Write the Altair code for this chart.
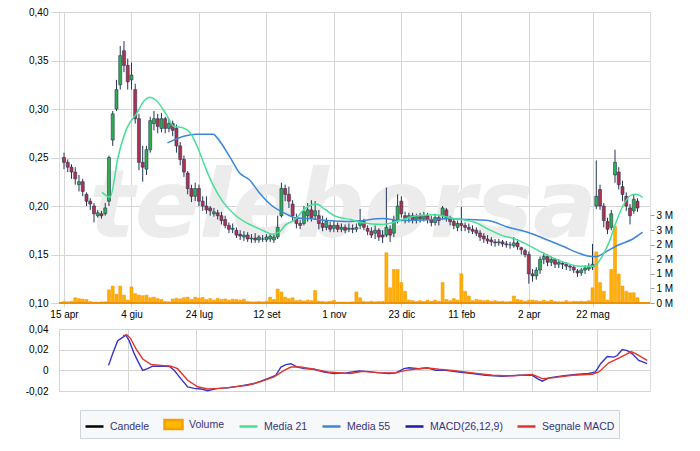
import altair as alt
import pandas as pd

# ---------------- axis ticks ----------------
TICK_DAYS = [0, 36, 72, 108, 144, 180, 212, 248, 282]          # trading-day index of gridlines
TICK_LABELS = ["15 apr", "4 giu", "24 lug", "12 set", "1 nov", "23 dic", "11 feb", "2 apr", "22 mag"]
PRICE_TICKS = [0.10, 0.15, 0.20, 0.25, 0.30, 0.35, 0.40]
VOL_TICKS = [0, 0.5, 1.0, 1.5, 2.0, 2.5, 3.0]
MACD_TICKS = [-0.02, 0, 0.02, 0.04]

# ---------------- candles (one every second session) ----------------
OPEN = [0.250, 0.245, 0.240, 0.235, 0.222, 0.225, 0.212, 0.205, 0.200, 0.190,
        0.192, 0.192, 0.205, 0.268, 0.300, 0.325, 0.360, 0.345, 0.330, 0.320,
        0.290, 0.245, 0.238, 0.258, 0.285, 0.290, 0.280, 0.290, 0.280, 0.285,
        0.280, 0.262, 0.248, 0.234, 0.218, 0.210, 0.218, 0.205, 0.200, 0.198,
        0.192, 0.193, 0.190, 0.186, 0.180, 0.176, 0.175, 0.171, 0.168, 0.170,
        0.166, 0.167, 0.165, 0.166, 0.165, 0.166, 0.165, 0.168, 0.190, 0.218,
        0.212, 0.202, 0.188, 0.182, 0.182, 0.190, 0.196, 0.190, 0.190, 0.182,
        0.178, 0.180, 0.177, 0.180, 0.176, 0.178, 0.176, 0.177, 0.176, 0.180,
        0.184, 0.177, 0.174, 0.172, 0.175, 0.170, 0.170, 0.176, 0.172, 0.185,
        0.205, 0.190, 0.188, 0.190, 0.186, 0.189, 0.187, 0.190, 0.186, 0.183,
        0.188, 0.190, 0.196, 0.188, 0.184, 0.178, 0.182, 0.180, 0.178, 0.176,
        0.175, 0.172, 0.169, 0.166, 0.165, 0.163, 0.162, 0.163, 0.161, 0.160,
        0.159, 0.162, 0.157, 0.154, 0.150, 0.130, 0.128, 0.134, 0.145, 0.148,
        0.142, 0.145, 0.140, 0.141, 0.140, 0.138, 0.137, 0.133, 0.131, 0.134,
        0.135, 0.137, 0.200, 0.217, 0.200, 0.184, 0.178, 0.232, 0.235, 0.220,
        0.210, 0.198, 0.195, 0.205]
HIGH = [0.255, 0.248, 0.243, 0.240, 0.232, 0.228, 0.214, 0.208, 0.203, 0.196,
        0.195, 0.203, 0.252, 0.298, 0.330, 0.365, 0.370, 0.352, 0.348, 0.326,
        0.295, 0.262, 0.262, 0.292, 0.298, 0.295, 0.296, 0.292, 0.290, 0.288,
        0.284, 0.266, 0.252, 0.236, 0.222, 0.224, 0.222, 0.210, 0.210, 0.200,
        0.198, 0.196, 0.194, 0.190, 0.183, 0.182, 0.178, 0.175, 0.174, 0.173,
        0.171, 0.172, 0.170, 0.170, 0.171, 0.171, 0.171, 0.190, 0.224, 0.222,
        0.220, 0.206, 0.192, 0.186, 0.200, 0.203, 0.206, 0.205, 0.196, 0.190,
        0.188, 0.184, 0.185, 0.183, 0.182, 0.181, 0.182, 0.181, 0.182, 0.197,
        0.187, 0.180, 0.178, 0.180, 0.177, 0.175, 0.219, 0.180, 0.190, 0.212,
        0.210, 0.194, 0.193, 0.193, 0.192, 0.193, 0.194, 0.193, 0.190, 0.192,
        0.190, 0.200, 0.198, 0.190, 0.187, 0.185, 0.199, 0.183, 0.182, 0.180,
        0.178, 0.175, 0.172, 0.170, 0.168, 0.166, 0.166, 0.165, 0.164, 0.163,
        0.168, 0.166, 0.158, 0.156, 0.153, 0.135, 0.137, 0.148, 0.152, 0.150,
        0.148, 0.146, 0.145, 0.143, 0.142, 0.140, 0.139, 0.135, 0.136, 0.139,
        0.141, 0.161, 0.247, 0.222, 0.203, 0.188, 0.196, 0.258, 0.240, 0.226,
        0.214, 0.202, 0.212, 0.208]
LOW = [0.238, 0.235, 0.228, 0.222, 0.215, 0.210, 0.200, 0.196, 0.183, 0.188,
       0.187, 0.190, 0.200, 0.262, 0.298, 0.320, 0.338, 0.320, 0.320, 0.285,
       0.237, 0.225, 0.232, 0.255, 0.278, 0.275, 0.276, 0.275, 0.276, 0.272,
       0.255, 0.242, 0.230, 0.212, 0.204, 0.205, 0.200, 0.195, 0.192, 0.190,
       0.189, 0.186, 0.181, 0.177, 0.172, 0.172, 0.167, 0.165, 0.164, 0.163,
       0.162, 0.162, 0.162, 0.163, 0.163, 0.163, 0.162, 0.166, 0.188, 0.205,
       0.198, 0.184, 0.177, 0.176, 0.180, 0.184, 0.184, 0.186, 0.176, 0.174,
       0.175, 0.173, 0.173, 0.173, 0.173, 0.172, 0.173, 0.172, 0.173, 0.176,
       0.175, 0.170, 0.167, 0.166, 0.164, 0.162, 0.168, 0.163, 0.168, 0.182,
       0.188, 0.182, 0.183, 0.182, 0.182, 0.183, 0.184, 0.182, 0.179, 0.180,
       0.180, 0.186, 0.184, 0.180, 0.176, 0.174, 0.174, 0.174, 0.172, 0.171,
       0.169, 0.164, 0.162, 0.161, 0.159, 0.158, 0.159, 0.158, 0.157, 0.156,
       0.157, 0.155, 0.150, 0.147, 0.120, 0.122, 0.124, 0.130, 0.140, 0.138,
       0.138, 0.136, 0.136, 0.135, 0.134, 0.133, 0.131, 0.127, 0.128, 0.130,
       0.133, 0.134, 0.197, 0.196, 0.178, 0.171, 0.175, 0.224, 0.217, 0.205,
       0.195, 0.181, 0.192, 0.194]
CLOSE = [0.245, 0.240, 0.235, 0.228, 0.225, 0.215, 0.205, 0.202, 0.192, 0.193,
         0.190, 0.198, 0.250, 0.295, 0.320, 0.355, 0.345, 0.328, 0.335, 0.290,
         0.245, 0.240, 0.258, 0.288, 0.290, 0.282, 0.290, 0.280, 0.285, 0.278,
         0.262, 0.248, 0.235, 0.218, 0.210, 0.218, 0.205, 0.200, 0.196, 0.195,
         0.194, 0.190, 0.185, 0.180, 0.176, 0.177, 0.170, 0.169, 0.170, 0.166,
         0.167, 0.165, 0.168, 0.166, 0.168, 0.169, 0.168, 0.178, 0.218, 0.212,
         0.205, 0.190, 0.182, 0.180, 0.194, 0.196, 0.188, 0.195, 0.182, 0.178,
         0.184, 0.176, 0.180, 0.176, 0.178, 0.175, 0.177, 0.176, 0.178, 0.185,
         0.178, 0.174, 0.170, 0.175, 0.168, 0.168, 0.178, 0.170, 0.185, 0.200,
         0.192, 0.187, 0.190, 0.186, 0.189, 0.187, 0.190, 0.186, 0.183, 0.188,
         0.185, 0.198, 0.188, 0.184, 0.180, 0.182, 0.180, 0.178, 0.176, 0.174,
         0.172, 0.168, 0.166, 0.164, 0.163, 0.162, 0.163, 0.161, 0.160, 0.160,
         0.162, 0.158, 0.155, 0.150, 0.130, 0.128, 0.134, 0.145, 0.148, 0.142,
         0.145, 0.140, 0.142, 0.140, 0.138, 0.137, 0.134, 0.131, 0.134, 0.136,
         0.138, 0.140, 0.210, 0.200, 0.185, 0.176, 0.192, 0.245, 0.222, 0.212,
         0.200, 0.190, 0.207, 0.198]
# volume, millions of shares
VOLUME = [0.05, 0.04, 0.06, 0.18, 0.15, 0.13, 0.12, 0.05, 0.03, 0.03,
          0.04, 0.04, 0.45, 0.58, 0.30, 0.58, 0.27, 0.10, 0.55, 0.32,
          0.27, 0.25, 0.27, 0.18, 0.20, 0.15, 0.12, 0.05, 0.04, 0.14,
          0.16, 0.14, 0.18, 0.20, 0.12, 0.20, 0.17, 0.19, 0.12, 0.15,
          0.10, 0.16, 0.12, 0.14, 0.10, 0.13, 0.12, 0.10, 0.13, 0.05,
          0.04, 0.04, 0.05, 0.04, 0.06, 0.20, 0.12, 0.48, 0.38, 0.20,
          0.15, 0.18, 0.08, 0.10, 0.07, 0.10, 0.08, 0.43, 0.06, 0.05,
          0.04, 0.06, 0.09, 0.03, 0.03, 0.03, 0.03, 0.04, 0.38, 0.18,
          0.05, 0.04, 0.06, 0.04, 0.05, 0.06, 1.72, 0.52, 1.15, 1.15,
          0.70, 0.40, 0.10, 0.08, 0.05, 0.08, 0.05, 0.10, 0.06, 0.10,
          0.06, 0.70, 0.12, 0.08, 0.15, 0.10, 1.00, 0.40, 0.24, 0.08,
          0.12, 0.10, 0.08, 0.10, 0.06, 0.08, 0.05, 0.06, 0.04, 0.05,
          0.24, 0.12, 0.10, 0.06, 0.10, 0.10, 0.08, 0.06, 0.10, 0.06,
          0.10, 0.05, 0.04, 0.04, 0.08, 0.04, 0.06, 0.05, 0.06, 0.05,
          0.08, 0.52, 1.75, 0.70, 0.40, 0.10, 1.15, 2.63, 0.99, 0.58,
          0.40, 0.35, 0.35, 0.18]
DAY = [2 * k for k in range(len(CLOSE))]

# ---------------- moving averages (read at points) ----------------
MA21_DAY = [20.3, 24.6, 28.8, 33.5, 38.6, 43, 45.6, 49.1, 54.4, 58.7, 62.9, 67.5, 71.8, 76, 79.7,
            84.9, 91.7, 99.1, 105.9, 111.1, 114.8, 117.9, 123.2, 128.4, 134.7, 138.9, 144.2, 153,
            158.3, 170.3, 175.6, 180.8, 188.2, 198.6, 205.5, 212.3, 219.6, 226.4, 233.2, 240.6,
            247.4, 254.2, 261.5, 268.3, 275.2, 282.5, 287.7, 290.9, 294.5, 298.2, 302.4, 305, 308.7]
MA21_VAL = [0.214, 0.209, 0.250, 0.280, 0.295, 0.309, 0.312, 0.309, 0.295, 0.282, 0.281, 0.275,
            0.258, 0.237, 0.221, 0.204, 0.190, 0.181, 0.175, 0.171, 0.173, 0.180, 0.186, 0.197,
            0.202, 0.197, 0.190, 0.186, 0.183, 0.181, 0.183, 0.186, 0.190, 0.191, 0.188, 0.186,
            0.183, 0.176, 0.170, 0.166, 0.160, 0.153, 0.146, 0.141, 0.138, 0.138, 0.150, 0.163,
            0.183, 0.200, 0.211, 0.212, 0.209]
MA55_DAY = [55.2, 63.9, 70.8, 79.7, 81.4, 88.4, 93.7, 98.9, 104.1, 111.1, 116.4, 123.2, 130.3,
            141, 153, 170.3, 179.2, 196.5, 205.5, 215.9, 226.4, 236.9, 247.4, 257.9, 266.8,
            275.2, 281.4, 284.1, 289.3, 296.1, 303.5, 308.7]
MA55_VAL = [0.265, 0.272, 0.274, 0.274, 0.271, 0.251, 0.234, 0.227, 0.214, 0.200, 0.194, 0.188,
            0.187, 0.185, 0.184, 0.187, 0.185, 0.186, 0.187, 0.186, 0.185, 0.178, 0.173, 0.165,
            0.158, 0.151, 0.148, 0.148, 0.153, 0.160, 0.166, 0.173]

# ---------------- MACD (read at points) ----------------
MACD_DAY = [26, 28.1, 30.8, 33.4, 35.1, 36.8, 39.5, 41.6, 43.9, 46.5, 49.1, 53.5, 57.8, 60.4,
            63.9, 67.5, 70.9, 74.4, 77.9, 83.2, 88.4, 95.4, 102.4, 109.4, 113.7, 116.4, 119,
            121.6, 125.1, 128.6, 133.8, 139, 144.3, 150.4, 157.4, 160.9, 167.9, 173.1, 176.6,
            181, 183.6, 188.8, 193.2, 197.6, 202.8, 209.8, 216.8, 223.8, 232.5, 241.2, 248.3,
            250.9, 253.5, 257, 264, 271, 277.9, 281.4, 284.1, 287.6, 291.1, 292.8, 295.4,
            298.1, 300.7, 304.1, 308.5]
MACD_VAL = [0.0048, 0.0159, 0.0287, 0.0319, 0.034, 0.0287, 0.0159, 0.0079, 0.0, 0.0016, 0.004,
            0.004, 0.004, 0.0, -0.008, -0.016, -0.0175, -0.018, -0.0198, -0.0175, -0.017,
            -0.015, -0.0128, -0.008, -0.0048, 0.0032, 0.0055, 0.0064, 0.0032, 0.0016, 0.001,
            -0.0016, -0.003, -0.0025, -0.0006, -0.001, -0.0025, -0.003, -0.0025, 0.0016,
            0.0025, 0.0016, 0.0025, 0.0, 0.0, -0.0016, -0.003, -0.0048, -0.0057, -0.0048,
            -0.0048, -0.008, -0.0105, -0.0073, -0.0054, -0.0041, -0.003, -0.0016, 0.0064,
            0.0134, 0.0128, 0.0143, 0.0201, 0.0191, 0.016, 0.0096, 0.0064]
SIG_DAY = [33.6, 35.6, 37.5, 40.4, 43.9, 48.2, 53.5, 58.7, 62.2, 67.5, 72.7, 77.9, 84.9, 91.9,
           98.9, 105.9, 112.8, 118.1, 121.6, 126.8, 133.8, 140.8, 147.8, 153, 159.2, 167.9,
           176.6, 181.9, 187.1, 193.2, 199.3, 206.3, 216.8, 227.3, 237.8, 248.3, 253.5, 258.7,
           269.2, 279.7, 283.2, 288.4, 292.8, 297.2, 300.1, 302.7, 308.5]
SIG_VAL = [0.0335, 0.0345, 0.031, 0.0207, 0.011, 0.0057, 0.0048, 0.004, 0.0016, -0.0096,
           -0.0159, -0.018, -0.0175, -0.016, -0.0144, -0.011, -0.0064, 0.0, 0.0032, 0.0032,
           0.001, -0.0016, -0.0025, -0.003, -0.001, -0.0022, -0.0025, 0.0, 0.0013, 0.0022,
           0.001, 0.0, -0.0025, -0.0048, -0.0054, -0.0041, -0.008, -0.0073, -0.0048, -0.0038,
           -0.0016, 0.0073, 0.0112, 0.0153, 0.0182, 0.016, 0.0096]

LEGEND_NAMES = ["Candele", "Volume", "Media 21", "Media 55", "MACD(26,12,9)", "Segnale MACD"]

# ---------------- styles ----------------
FONT = "Liberation Sans"
NAVY = "#34347a"
GRID = "#d5d5d5"
UP, DOWN, FLAT, WICK = "#2fae4f", "#b2324e", "#2d3f6e", "#243457"
VOL_FILL, VOL_EDGE = "#ffb000", "#f39000"
MA21_C, MA55_C, MACD_C, SIG_C = "#45e096", "#3b87d9", "#3434cc", "#e3342c"
LEGEND_STROKE = ["#000000", "#f5a000", MA21_C, MA55_C, "#1c1ca8", SIG_C]
LEGEND_FILL = ["transparent", "#ffb800", "transparent", "transparent", "transparent", "transparent"]
LEGEND_SHAPE = ["stroke", "M-1,-0.5H1V0.5H-1Z", "stroke", "stroke", "stroke", "stroke"]

W, H_MAIN, H_MACD = 591, 291, 62
PX_PER_M = 29.2          # volume axis: 0.5 M every 14.6 px

# ---------------- data frames ----------------
cdf = pd.DataFrame({"day": DAY, "open": OPEN, "high": HIGH, "low": LOW, "close": CLOSE, "vol": VOLUME})
cdf["dir"] = ["up" if c > o else ("down" if c < o else "flat") for o, c in zip(OPEN, CLOSE)]
ma21df = pd.DataFrame({"day": MA21_DAY, "val": MA21_VAL})
ma55df = pd.DataFrame({"day": MA55_DAY, "val": MA55_VAL})
macddf = pd.DataFrame({"day": MACD_DAY, "val": MACD_VAL})
sigdf = pd.DataFrame({"day": SIG_DAY, "val": SIG_VAL})
legdf = pd.DataFrame({"serie": LEGEND_NAMES})

x_label_expr = ("[" + ",".join("'%s'" % s for s in TICK_LABELS) + "][indexof(["
                + ",".join(str(d) for d in TICK_DAYS) + "], datum.value)]")

x_scale = alt.Scale(domain=[0, 310], nice=False, zero=False)
price_scale = alt.Scale(domain=[0.10, 0.40], nice=False, zero=False)
vol_scale = alt.Scale(domain=[0, H_MAIN / PX_PER_M], nice=False, zero=True)
macd_scale = alt.Scale(domain=[-0.02, 0.04], nice=False, zero=False)

x_axis = alt.Axis(values=TICK_DAYS, labelExpr=x_label_expr, grid=True, gridColor=GRID,
                  tickColor=GRID, tickSize=4, labelPadding=2, domain=False, labelFlush=False,
                  labelOverlap=False, minExtent=18, maxExtent=18, title=None)
price_axis = alt.Axis(values=PRICE_TICKS, labelExpr="replace(format(datum.value, '.2f'), '.', ',')",
                      grid=True, gridColor=GRID, tickColor=GRID, tickSize=8, labelPadding=3,
                      domain=False, minExtent=50, maxExtent=50, title=None, labelOverlap=False,
                      orient="left")
vol_axis = alt.Axis(values=VOL_TICKS, labelExpr="format(round(datum.value), 'd') + ' M'",
                    grid=False, tickColor="#9a9aa8", tickSize=4, labelPadding=2, domain=False,
                    title=None, labelOverlap=False, orient="right")
macd_x_axis = alt.Axis(values=TICK_DAYS, grid=True, gridColor=GRID, labels=False, ticks=False,
                       domain=False, title=None, minExtent=0, maxExtent=0)
macd_y_axis = alt.Axis(values=MACD_TICKS,
                       labelExpr="datum.value == 0 ? '0' : replace(replace(format(datum.value, '.2f'), '.', ','), '\u2212', '-')",
                       grid=True, gridColor=GRID, tickSize=0, labelPadding=11, domain=False,
                       minExtent=50, maxExtent=50, title=None, labelOverlap=False)


def X():
    return alt.X("day:Q", scale=x_scale, axis=x_axis)


def PY(field):
    return alt.Y(field, scale=price_scale, axis=price_axis)


# ---------------- main panel ----------------
vol_bars = alt.Chart(cdf).mark_bar(size=3, fill=VOL_FILL, stroke=VOL_EDGE, strokeWidth=0.5).encode(
    x=X(), y=alt.Y("vol:Q", scale=vol_scale, axis=vol_axis))
vol_base = alt.Chart(pd.DataFrame({"vol": [0]})).mark_rule(color=VOL_EDGE, strokeWidth=2).encode(
    y=alt.Y("vol:Q", scale=vol_scale, axis=vol_axis))
vol_layer = alt.layer(vol_bars, vol_base)

watermark = alt.Chart(pd.DataFrame({"t": ["teleborsa"]})).mark_text(
    font="DejaVu Sans", fontSize=95, fontWeight="bold", fontStyle="italic", color="#ececec",
    align="center", baseline="alphabetic").encode(
    x=alt.XDatum(149, type="quantitative", scale=x_scale, axis=x_axis),
    y=alt.YDatum(0.168, type="quantitative", scale=price_scale, axis=price_axis),
    text="t:N")
wicks = alt.Chart(cdf).mark_rule(color=WICK, strokeWidth=1).encode(
    x=X(), y=PY("low:Q"), y2="high:Q")
bodies = alt.Chart(cdf).mark_bar(size=3, stroke=WICK, strokeWidth=0.6).encode(
    x=X(), y=PY("open:Q"), y2="close:Q",
    color=alt.Color("dir:N", scale=alt.Scale(domain=["up", "down", "flat"], range=[UP, DOWN, FLAT]),
                    legend=None))
ma55 = alt.Chart(ma55df).mark_line(color=MA55_C, strokeWidth=1.5, interpolate="monotone").encode(
    x=X(), y=PY("val:Q"))
ma21 = alt.Chart(ma21df).mark_line(color=MA21_C, strokeWidth=1.5, interpolate="monotone").encode(
    x=X(), y=PY("val:Q"))
price_layer = alt.layer(watermark, wicks, bodies, ma55, ma21)

main = alt.layer(vol_layer, price_layer).resolve_scale(y="independent").properties(
    width=W, height=H_MAIN)

# ---------------- MACD panel ----------------
def MX():
    return alt.X("day:Q", scale=x_scale, axis=macd_x_axis)


def MY():
    return alt.Y("val:Q", scale=macd_scale, axis=macd_y_axis)


macd_line = alt.Chart(macddf).mark_line(color=MACD_C, strokeWidth=1.4).encode(x=MX(), y=MY())
sig_line = alt.Chart(sigdf).mark_line(color=SIG_C, strokeWidth=1.4).encode(x=MX(), y=MY())

leg = alt.Legend(orient="none", legendX=21, legendY=398, direction="horizontal", title=None,
                 labelFont=FONT, labelFontSize=10.5, labelColor=NAVY, symbolSize=324,
                 symbolStrokeWidth=2.5, columnPadding=9, labelOffset=5, padding=4,
                 strokeColor="#cfd4da", fillColor="#f7f8fa", symbolOpacity=1)
legend_layer = alt.Chart(legdf).mark_point(opacity=1, size=324, strokeWidth=2.5).encode(
    stroke=alt.Stroke("serie:N", scale=alt.Scale(domain=LEGEND_NAMES, range=LEGEND_STROKE), legend=leg),
    fill=alt.Fill("serie:N", scale=alt.Scale(domain=LEGEND_NAMES, range=LEGEND_FILL), legend=leg),
    shape=alt.Shape("serie:N", scale=alt.Scale(domain=LEGEND_NAMES, range=LEGEND_SHAPE), legend=leg),
).transform_filter("false")

macd = alt.layer(macd_line, sig_line, legend_layer).properties(width=W, height=H_MACD)

chart = alt.vconcat(main, macd, spacing=1).properties(
    padding={"top": -2, "left": 0, "right": 0, "bottom": 0},
    background="white",
).configure_view(stroke="#c9c9c9").configure_axis(
    labelFont=FONT, labelFontSize=10.5, labelColor=NAVY
).configure(font=FONT)

chart.save("out.html", embed_options={"renderer": "svg", "actions": False})
